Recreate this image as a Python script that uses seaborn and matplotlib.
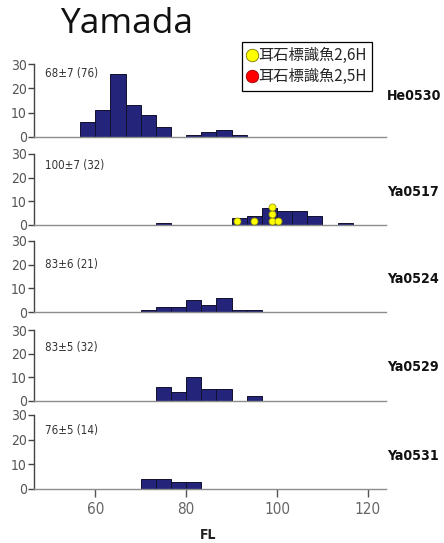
import numpy as np
import pandas as pd
import matplotlib
matplotlib.use("Agg")
import matplotlib.pyplot as plt
from matplotlib.lines import Line2D
import seaborn as sns

# ---------------- data ----------------
samples = ["He0530", "Ya0517", "Ya0524", "Ya0529", "Ya0531"]
stat_labels = ["68±7 (76)", "100±7 (32)", "83±6 (21)", "83±5 (32)", "76±5 (14)"]

bin_width = 10 / 3
# left edges of non-empty bins and counts
he0530_left = [56.67, 60.0, 63.33, 66.67, 70.0, 73.33, 80.0, 83.33, 86.67, 90.0]
he0530_count = [6, 11, 26, 13, 9, 4, 1, 2, 3, 1]
ya0517_left = [73.33, 90.0, 93.33, 96.67, 100.0, 103.33, 106.67, 113.33]
ya0517_count = [1, 3, 4, 7, 6, 6, 4, 1]
ya0524_left = [70.0, 73.33, 76.67, 80.0, 83.33, 86.67, 90.0, 93.33]
ya0524_count = [1, 2, 2, 5, 3, 6, 1, 1]
ya0529_left = [73.33, 76.67, 80.0, 83.33, 86.67, 93.33]
ya0529_count = [6, 4, 10, 5, 5, 2]
ya0531_left = [70.0, 73.33, 76.67, 80.0]
ya0531_count = [4, 4, 3, 3]

# tagged fish (yellow) in Ya0517
tag_fl = [91.1, 95.0, 99.0, 99.0, 99.0, 100.3]
tag_y = [1.5, 1.5, 1.5, 4.5, 7.5, 1.5]

legend_labels = ["耳石標識魚2,6H", "耳石標識魚2,5H"]
legend_colors = ["#FFFF00", "#FF0000"]

x_ticks = [60, 80, 100, 120]
y_ticks = [0, 10, 20, 30]

lefts = [he0530_left, ya0517_left, ya0524_left, ya0529_left, ya0531_left]
counts = [he0530_count, ya0517_count, ya0524_count, ya0529_count, ya0531_count]

# ---------------- layout ----------------
W, H = 444, 543
fig = plt.figure(figsize=(W / 100, H / 100), dpi=100)
sns.set_style("white")
NARROW = ["DejaVu Sans"]
plt.rcParams["font.family"] = NARROW
plt.rcParams["font.stretch"] = "condensed"

panel_px = [(64, 137), (154, 225), (241, 312), (330, 401), (415, 489)]
stat_y = [25.9, 25.3, 20.0, 22.6, 23.9]
name_y_px = [96, 192, 279, 367, 456]
x0_px, x1_px = 34, 386

bar_color = "#24257A"

for i, (top, bot) in enumerate(panel_px):
    ax = fig.add_axes([x0_px / W, 1 - bot / H, (x1_px - x0_px) / W, (bot - top) / H])
    left = np.array(lefts[i])
    df = pd.DataFrame({"FL": left + bin_width / 2, "n": np.array(counts[i], dtype=float)})
    sns.histplot(data=df, x="FL", weights="n", binwidth=bin_width,
                 binrange=(50, 50 + 22 * bin_width), ax=ax,
                 color=bar_color, edgecolor="#10102e", linewidth=0.7, alpha=1.0)
    for p in list(ax.patches):
        if p.get_height() <= 0:
            p.remove()
    if i == 1:
        sns.scatterplot(x=tag_fl, y=tag_y, ax=ax, color=legend_colors[0],
                        edgecolor="#8a8a00", linewidth=0.5, s=26, zorder=5)
    ax.set_xlim(46.5, 124)
    ax.set_ylim(0, 30)
    ax.set_yticks(y_ticks)
    ax.set_yticklabels([str(v) for v in y_ticks], color="#555555", fontsize=10,
                       fontstretch="condensed")
    ax.tick_params(axis="y", direction="out", length=4, width=1, color="#444444", pad=1, left=True)
    for s in ["top", "right"]:
        ax.spines[s].set_visible(False)
    ax.spines["left"].set_color("#444444")
    ax.spines["left"].set_linewidth(1.0)
    ax.spines["bottom"].set_color("#8c8c8c")
    ax.spines["bottom"].set_linewidth(1.0)
    ax.set_ylabel("")
    ax.set_xlabel("")
    ax.patch.set_alpha(0)
    if i == len(panel_px) - 1:
        ax.set_xticks(x_ticks)
        ax.set_xticklabels([str(v) for v in x_ticks], color="#666666", fontsize=11,
                           fontstretch="condensed")
        ax.tick_params(axis="x", direction="out", length=6, width=1, color="#555555", pad=3, bottom=True)
    else:
        ax.set_xticks([])
    ax.text(48.9, stat_y[i], stat_labels[i], fontsize=8.3, color="#333333",
            va="center", ha="left", fontstretch="condensed")
    fig.text(387 / W, 1 - name_y_px[i] / H, samples[i], fontsize=10.2,
             fontweight="bold", va="center", ha="left", color="#111111",
             fontstretch="condensed")

fig.text(60 / W, 1 - 33 / H, "Yamada", fontsize=25.5, family=["Open Sans", "DejaVu Sans"],
         fontstretch="normal", color="#111111", va="baseline", ha="left")
fig.text(208 / W, 1 - 535 / H, "FL", fontsize=10, fontweight="bold",
         color="#222222", va="center", ha="center", fontstretch="condensed")

handles = [Line2D([0], [0], marker="o", linestyle="none", markersize=9,
                  markerfacecolor=c, markeredgecolor="#777700" if c == "#FFFF00" else "#990000",
                  markeredgewidth=0.6) for c in legend_colors]
leg = fig.legend(handles, legend_labels, loc="upper left",
                 bbox_to_anchor=(241.5 / W, 1 - 41.5 / H),
                 prop={"family": ["Noto Sans CJK JP", "DejaVu Sans"], "size": 11,
                       "stretch": "normal"},
                 frameon=True, fancybox=False, framealpha=1, edgecolor="#000000",
                 handlelength=0.7, handletextpad=0.05, borderpad=0.35, labelspacing=0.3,
                 borderaxespad=0)
leg.get_frame().set_linewidth(0.9)

fig.savefig("out.png", dpi=100)
